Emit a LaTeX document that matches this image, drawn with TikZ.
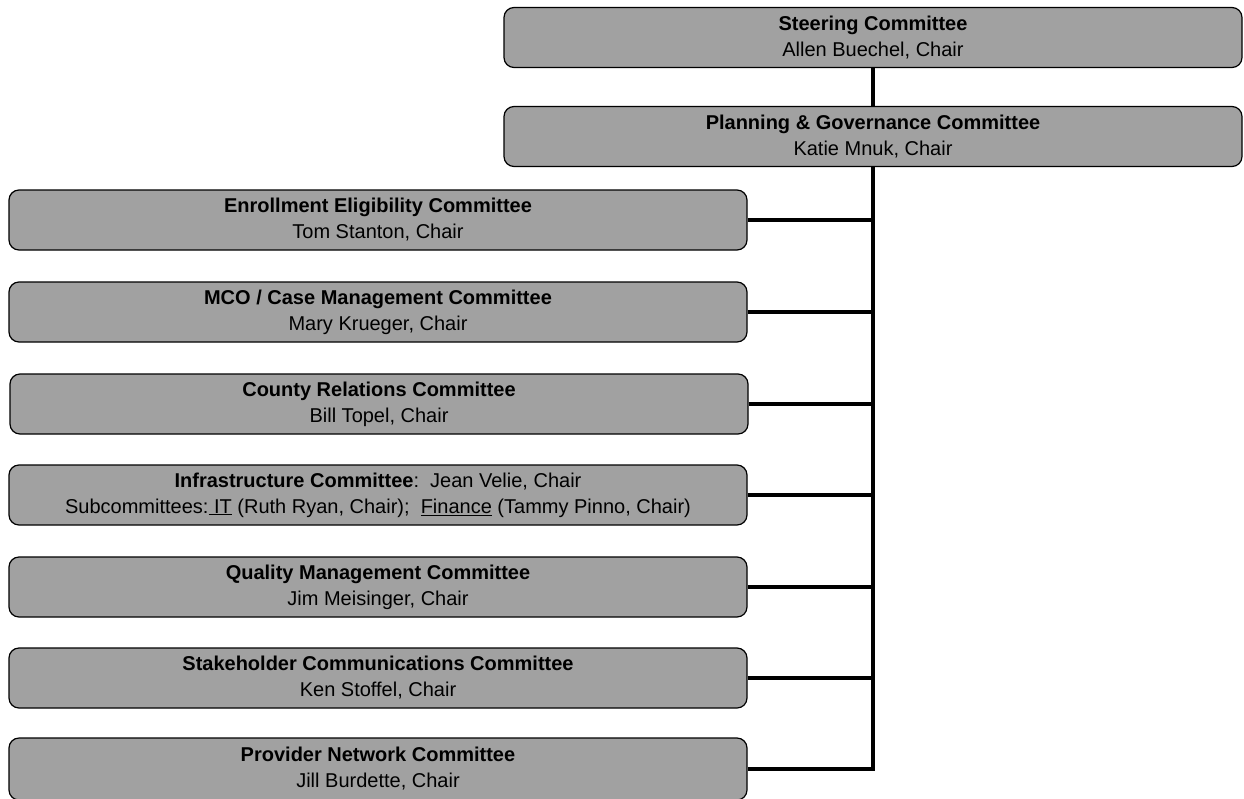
\documentclass[tikz,border=0pt]{standalone}
\usepackage{fontspec}
\setmainfont{Liberation Sans}
\definecolor{boxgray}{RGB}{161,161,161}

\begin{document}
\begin{tikzpicture}[x=1pt,y=-1pt,
  committee/.style={draw, line width=1.2pt, fill=boxgray, rounded corners=10pt,
    minimum width=738pt, minimum height=60pt, inner sep=0pt, align=center,
    font=\fontsize{20}{26}\selectfont},
  link/.style={line width=4pt}]

\useasboundingbox (0,0) rectangle (1244,798);

\pgfmathsetmacro{\leftX}{378}
\pgfmathsetmacro{\topX}{873}

\node[committee] (steer) at (\topX,37.5) {\textbf{Steering Committee}\\Allen Buechel, Chair};
\node[committee] (plan) at (\topX,136.5) {\textbf{Planning \& Governance Committee}\\Katie Mnuk, Chair};

\node[committee] (enroll) at (\leftX,220) {\textbf{Enrollment Eligibility Committee}\\Tom Stanton, Chair};
\node[committee] (mco) at (\leftX,312) {\textbf{MCO / Case Management Committee}\\Mary Krueger, Chair};
\node[committee] (county) at (\leftX+1,404) {\textbf{County Relations Committee}\\Bill Topel, Chair};
\node[committee] (infra) at (\leftX,495) {\textbf{Infrastructure Committee}:\ \ Jean Velie, Chair\\Subcommittees:\underline{\ IT} (Ruth Ryan, Chair);\ \ \underline{Finance} (Tammy Pinno, Chair)};
\node[committee] (quality) at (\leftX,587) {\textbf{Quality Management Committee}\\Jim Meisinger, Chair};
\node[committee] (stake) at (\leftX,678) {\textbf{Stakeholder Communications Committee}\\Ken Stoffel, Chair};
\node[committee, minimum height=62pt] (provider) at (\leftX,769) {\textbf{Provider Network Committee}\\Jill Burdette, Chair};

\draw[link] (steer) -- (plan);
\draw[link] (plan) |- (provider);
\foreach \c in {enroll,mco,county,infra,quality,stake}
  \draw[link] (\c.east) -- (\c.east -| plan.south);

\end{tikzpicture}
\end{document}
